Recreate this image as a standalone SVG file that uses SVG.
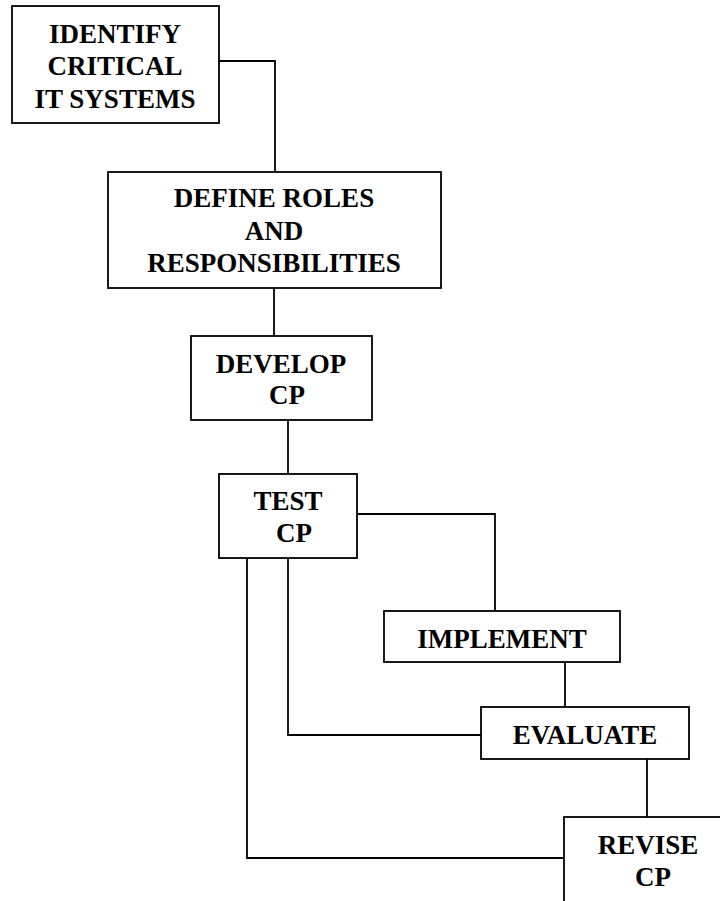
<svg xmlns="http://www.w3.org/2000/svg" width="720" height="901" viewBox="0 0 720 901">
<style>
.box{fill:#fff;stroke:#000;stroke-width:1.8}
.con{fill:none;stroke:#000;stroke-width:1.8}
text{font-family:"Liberation Serif","Times New Roman",serif;font-weight:bold;font-size:27px;fill:#000;text-anchor:middle}
</style>
<rect width="720" height="901" fill="#fff"/>
<g id="connectors">
<polyline class="con" points="219,61 275,61 275,172"/>
<line class="con" x1="274" y1="288" x2="274" y2="336"/>
<line class="con" x1="288" y1="420" x2="288" y2="474"/>
<polyline class="con" points="357,514 495,514 495,611"/>
<line class="con" x1="565" y1="662" x2="565" y2="707"/>
<polyline class="con" points="288,558 288,735 481,735"/>
<line class="con" x1="647" y1="759" x2="647" y2="817"/>
<polyline class="con" points="247,558 247,858 564,858"/>
</g>
<g id="identify">
<rect class="box" x="12" y="6" width="207" height="117"/>
<text x="115" y="43">IDENTIFY</text>
<text x="115" y="75">CRITICAL</text>
<text x="115" y="108">IT SYSTEMS</text>
</g>
<g id="define">
<rect class="box" x="108" y="172" width="333" height="116"/>
<text x="274" y="207">DEFINE ROLES</text>
<text x="274" y="240">AND</text>
<text x="274" y="272">RESPONSIBILITIES</text>
</g>
<g id="develop">
<rect class="box" x="191" y="336" width="181" height="84"/>
<text x="281" y="373">DEVELOP</text>
<text x="287" y="404">CP</text>
</g>
<g id="test">
<rect class="box" x="219" y="474" width="138" height="84"/>
<text x="288" y="510">TEST</text>
<text x="294" y="542">CP</text>
</g>
<g id="implement">
<rect class="box" x="384" y="611" width="236" height="51"/>
<text x="502" y="648">IMPLEMENT</text>
</g>
<g id="evaluate">
<rect class="box" x="481" y="707" width="208" height="52"/>
<text x="585" y="744">EVALUATE</text>
</g>
<g id="revise">
<rect class="box" x="564" y="817" width="170" height="100"/>
<text x="648" y="854">REVISE</text>
<text x="653" y="886">CP</text>
</g>
</svg>
